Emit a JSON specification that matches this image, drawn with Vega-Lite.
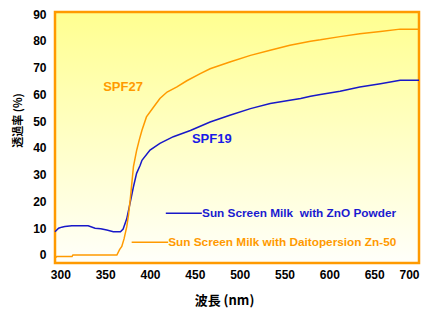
{
  "$schema": "https://vega.github.io/schema/vega-lite/v6.json",
  "width": 364,
  "height": 251,
  "autosize": {"type": "none"},
  "padding": {"left": 55, "top": 12, "right": 10, "bottom": 46},
  "background": "white",
  "config": {
    "view": {"stroke": null},
    "axis": {
      "grid": false, "domain": false, "ticks": false, "tickSize": 0,
      "labelFont": "Liberation Sans", "labelFontWeight": "bold", "labelFontSize": 12, "labelColor": "#000",
      "titleFont": "Noto Sans CJK JP", "titleFontWeight": "bold", "titleFontSize": 12, "titleColor": "#000"
    }
  },
  "datasets": {
    "one": [{}],
    "curves": [
      {"nm": 294, "t": 8.7, "s": "ZnO"},
      {"nm": 298, "t": 10, "s": "ZnO"},
      {"nm": 301.5, "t": 10.4, "s": "ZnO"},
      {"nm": 305, "t": 10.6, "s": "ZnO"},
      {"nm": 312.7, "t": 10.9, "s": "ZnO"},
      {"nm": 331, "t": 10.9, "s": "ZnO"},
      {"nm": 338.7, "t": 10, "s": "ZnO"},
      {"nm": 345, "t": 9.8, "s": "ZnO"},
      {"nm": 351.8, "t": 9.3, "s": "ZnO"},
      {"nm": 359, "t": 8.7, "s": "ZnO"},
      {"nm": 367, "t": 8.7, "s": "ZnO"},
      {"nm": 370, "t": 9.7, "s": "ZnO"},
      {"nm": 374, "t": 13.5, "s": "ZnO"},
      {"nm": 377.8, "t": 19.5, "s": "ZnO"},
      {"nm": 381.5, "t": 25.5, "s": "ZnO"},
      {"nm": 385, "t": 30.5, "s": "ZnO"},
      {"nm": 389, "t": 33.5, "s": "ZnO"},
      {"nm": 391, "t": 35.4, "s": "ZnO"},
      {"nm": 400, "t": 39.2, "s": "ZnO"},
      {"nm": 411, "t": 41.7, "s": "ZnO"},
      {"nm": 426, "t": 44.2, "s": "ZnO"},
      {"nm": 445, "t": 46.5, "s": "ZnO"},
      {"nm": 467, "t": 49.7, "s": "ZnO"},
      {"nm": 489, "t": 52.2, "s": "ZnO"},
      {"nm": 512, "t": 54.7, "s": "ZnO"},
      {"nm": 534, "t": 56.6, "s": "ZnO"},
      {"nm": 556, "t": 57.8, "s": "ZnO"},
      {"nm": 568, "t": 58.5, "s": "ZnO"},
      {"nm": 579, "t": 59.3, "s": "ZnO"},
      {"nm": 590, "t": 60, "s": "ZnO"},
      {"nm": 612, "t": 61.2, "s": "ZnO"},
      {"nm": 634, "t": 62.8, "s": "ZnO"},
      {"nm": 657, "t": 64, "s": "ZnO"},
      {"nm": 679, "t": 65.3, "s": "ZnO"},
      {"nm": 700, "t": 65.3, "s": "ZnO"},
      {"nm": 294, "t": -1.1, "s": "Zn50"},
      {"nm": 296, "t": -0.6, "s": "Zn50"},
      {"nm": 313, "t": -0.6, "s": "Zn50"},
      {"nm": 314, "t": 0, "s": "Zn50"},
      {"nm": 363, "t": 0, "s": "Zn50"},
      {"nm": 366, "t": 2, "s": "Zn50"},
      {"nm": 368.5, "t": 3.2, "s": "Zn50"},
      {"nm": 371, "t": 6, "s": "Zn50"},
      {"nm": 374, "t": 10.5, "s": "Zn50"},
      {"nm": 376, "t": 15, "s": "Zn50"},
      {"nm": 378.3, "t": 22, "s": "Zn50"},
      {"nm": 381.5, "t": 33, "s": "Zn50"},
      {"nm": 385, "t": 39, "s": "Zn50"},
      {"nm": 388, "t": 43, "s": "Zn50"},
      {"nm": 391, "t": 46.6, "s": "Zn50"},
      {"nm": 396, "t": 51.6, "s": "Zn50"},
      {"nm": 404, "t": 55.3, "s": "Zn50"},
      {"nm": 411, "t": 58.5, "s": "Zn50"},
      {"nm": 419, "t": 60.9, "s": "Zn50"},
      {"nm": 430, "t": 62.8, "s": "Zn50"},
      {"nm": 441, "t": 65.1, "s": "Zn50"},
      {"nm": 456, "t": 67.8, "s": "Zn50"},
      {"nm": 467, "t": 69.6, "s": "Zn50"},
      {"nm": 489, "t": 72.1, "s": "Zn50"},
      {"nm": 512, "t": 74.6, "s": "Zn50"},
      {"nm": 534, "t": 76.5, "s": "Zn50"},
      {"nm": 556, "t": 78.4, "s": "Zn50"},
      {"nm": 579, "t": 79.9, "s": "Zn50"},
      {"nm": 590, "t": 80.4, "s": "Zn50"},
      {"nm": 612, "t": 81.6, "s": "Zn50"},
      {"nm": 634, "t": 82.7, "s": "Zn50"},
      {"nm": 657, "t": 83.5, "s": "Zn50"},
      {"nm": 679, "t": 84.4, "s": "Zn50"},
      {"nm": 700, "t": 84.4, "s": "Zn50"}
    ]
  },
  "layer": [
    {
      "data": {"name": "one"},
      "mark": {
        "type": "rect",
        "fill": {
          "gradient": "linear", "x1": 0, "y1": 0, "x2": 0, "y2": 1,
          "stops": [
            {"offset": 0, "color": "#FFFF90"},
            {"offset": 1, "color": "#FFFFFA"}
          ]
        },
        "stroke": "#FF9A00",
        "strokeWidth": 2.5
      },
      "encoding": {
        "x": {
          "datum": 294, "type": "quantitative",
          "scale": {"domain": [294, 700], "nice": false, "zero": false},
          "axis": {"values": [300, 350, 400, 450, 500, 550, 600, 650, 700], "tickCount": 9, "labelOverlap": false, "labelPadding": 6, "title": "波長 (nm)", "titleFontSize": 13, "titleX": 169, "titleY": 37, "titleBaseline": "middle", "titleAlign": "center"}
        },
        "x2": {"datum": 700},
        "y": {
          "datum": -3, "type": "quantitative",
          "scale": {"domain": [-3, 90.8], "nice": false, "zero": false},
          "axis": {"values": [0, 10, 20, 30, 40, 50, 60, 70, 80, 90], "tickCount": 10, "labelOverlap": false, "labelPadding": 9, "title": "透過率 (%)", "titleFontSize": 11, "titleX": -37, "titleY": 108, "titleAngle": -90, "titleBaseline": "middle", "titleAlign": "center"}
        },
        "y2": {"datum": 90.8}
      }
    },
    {
      "data": {"name": "curves"},
      "mark": {"type": "line", "strokeWidth": 1.5},
      "encoding": {
        "x": {
          "field": "nm", "type": "quantitative",
          "scale": {"domain": [294, 700], "nice": false, "zero": false},
          "axis": {"values": [300, 350, 400, 450, 500, 550, 600, 650, 700], "tickCount": 9, "labelOverlap": false, "labelPadding": 6, "title": "波長 (nm)", "titleFontSize": 13, "titleX": 169, "titleY": 37, "titleBaseline": "middle", "titleAlign": "center"}
        },
        "y": {
          "field": "t", "type": "quantitative",
          "scale": {"domain": [-3, 90.8], "nice": false, "zero": false},
          "axis": {"values": [0, 10, 20, 30, 40, 50, 60, 70, 80, 90], "tickCount": 10, "labelOverlap": false, "labelPadding": 9, "title": "透過率 (%)", "titleFontSize": 11, "titleX": -37, "titleY": 108, "titleAngle": -90, "titleBaseline": "middle", "titleAlign": "center"}
        },
        "color": {"field": "s", "type": "nominal", "scale": {"domain": ["ZnO", "Zn50"], "range": ["#1818C8", "#FF9A00"]}, "legend": null},
        "detail": {"field": "s"}
      }
    },
    {
      "data": {"name": "one"},
      "mark": {"type": "rule", "strokeWidth": 1.5, "color": "#1818C8"},
      "encoding": {"x": {"datum": 417.6, "type": "quantitative"}, "x2": {"datum": 457.8}, "y": {"datum": 15.6, "type": "quantitative"}}
    },
    {
      "data": {"name": "one"},
      "mark": {"type": "rule", "strokeWidth": 1.5, "color": "#FF9A00"},
      "encoding": {"x": {"datum": 379.5, "type": "quantitative"}, "x2": {"datum": 420.2}, "y": {"datum": 4.8, "type": "quantitative"}}
    },
    {
      "data": {"name": "one"},
      "mark": {"type": "text", "text": "Sun Screen Milk\u00a0 with ZnO Powder", "align": "left", "baseline": "middle", "font": "Liberation Sans", "fontWeight": "bold", "fontSize": 11.8, "color": "#1A1AD0"},
      "encoding": {"x": {"datum": 458, "type": "quantitative"}, "y": {"datum": 15.6, "type": "quantitative"}}
    },
    {
      "data": {"name": "one"},
      "mark": {"type": "text", "text": "Sun Screen Milk with Daitopersion Zn-50", "align": "left", "baseline": "middle", "font": "Liberation Sans", "fontWeight": "bold", "fontSize": 11.8, "color": "#FF9A00"},
      "encoding": {"x": {"datum": 420.2, "type": "quantitative"}, "y": {"datum": 4.8, "type": "quantitative"}}
    },
    {
      "data": {"name": "one"},
      "mark": {"type": "text", "text": "SPF27", "align": "left", "baseline": "middle", "font": "Liberation Sans", "fontWeight": "bold", "fontSize": 13, "color": "#FF9A00"},
      "encoding": {"x": {"datum": 347.7, "type": "quantitative"}, "y": {"datum": 62.7, "type": "quantitative"}}
    },
    {
      "data": {"name": "one"},
      "mark": {"type": "text", "text": "SPF19", "align": "left", "baseline": "middle", "font": "Liberation Sans", "fontWeight": "bold", "fontSize": 13, "color": "#1A1AE6"},
      "encoding": {"x": {"datum": 446.7, "type": "quantitative"}, "y": {"datum": 43.3, "type": "quantitative"}}
    }
  ]
}
